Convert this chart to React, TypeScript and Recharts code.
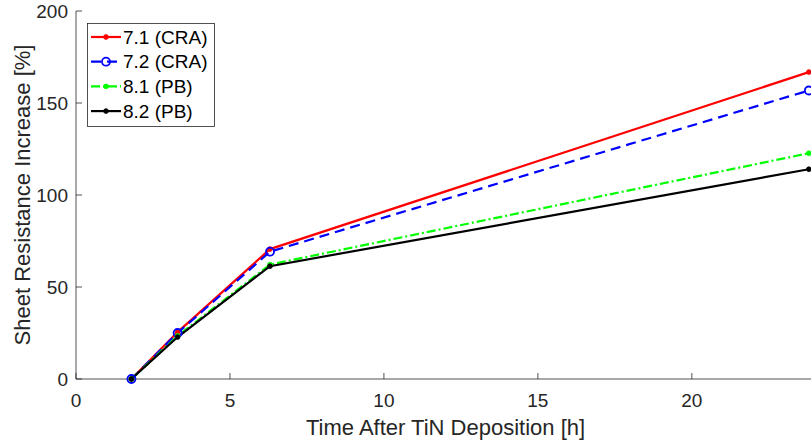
import React from "react";
import { LineChart, Line, XAxis, YAxis } from "recharts";

const hours = [1.8, 3.3, 6.3, 23.8];
const cra71 = [0, 25.5, 70.6, 166.8];
const cra72 = [0, 25, 69.2, 156.8];
const pb81 = [0, 23.4, 62.2, 122.7];
const pb82 = [0, 22.8, 61.3, 114];

const xTicks = [0, 5, 10, 15, 20];
const yTicks = [0, 50, 100, 150, 200];

const AXIS = "#262626";
const FONT = "'Liberation Sans', Arial, Helvetica, sans-serif";

const series = [
  { key: "s71", name: "7.1 (CRA)", color: "#ff0000", dash: undefined, marker: "dot" },
  { key: "s72", name: "7.2 (CRA)", color: "#0000ff", dash: "10 6", marker: "circle" },
  { key: "s81", name: "8.1 (PB)", color: "#00ff00", dash: "9 3 2 3", marker: "dot" },
  { key: "s82", name: "8.2 (PB)", color: "#000000", dash: undefined, marker: "dot" },
];

const data = hours.map((h, i) => ({
  h,
  s71: cra71[i],
  s72: cra72[i],
  s81: pb81[i],
  s82: pb82[i],
}));

function Marker({ cx, cy, kind, color }: { cx: number; cy: number; kind: string; color: string }) {
  if (kind === "circle") {
    return <circle cx={cx} cy={cy} r={4} fill="none" stroke={color} strokeWidth={1.8} />;
  }
  return <circle cx={cx} cy={cy} r={2.4} fill={color} stroke={color} strokeWidth={0.8} />;
}

// ticks drawn inward, MATLAB style
function BottomTick(props: any) {
  const { x, y, payload } = props;
  return (
    <g>
      <line x1={x} x2={x} y1={y} y2={y - 6} stroke={AXIS} strokeWidth={0.8} />
      <text x={x} y={y + 28} textAnchor="middle" fontSize={19} fill={AXIS} fontFamily={FONT}>
        {payload.value}
      </text>
    </g>
  );
}

function TopTick(props: any) {
  const { x, y } = props;
  return <line x1={x} x2={x} y1={y} y2={y + 6} stroke={AXIS} strokeWidth={0.8} />;
}

function LeftTick(props: any) {
  const { x, y, payload } = props;
  return (
    <g>
      <line x1={x} x2={x + 6} y1={y} y2={y} stroke={AXIS} strokeWidth={0.8} />
      <text x={x - 8} y={y} dy="0.35em" textAnchor="end" fontSize={19} fill={AXIS} fontFamily={FONT}>
        {payload.value}
      </text>
    </g>
  );
}

function RightTick(props: any) {
  const { x, y } = props;
  return <line x1={x} x2={x - 6} y1={y} y2={y} stroke={AXIS} strokeWidth={0.8} />;
}

function LegendBox() {
  return (
    <svg width={128} height={104} style={{ display: "block" }}>
      <rect x={0.5} y={0.5} width={127} height={103} fill="#fff" stroke={AXIS} strokeWidth={0.8} />
      {series.map((s, i) => {
        const cy = 14 + i * 24.7;
        return (
          <g key={s.key}>
            <line x1={4} x2={34} y1={cy} y2={cy} stroke={s.color} strokeWidth={2.2} strokeDasharray={s.dash} />
            <Marker cx={19} cy={cy} kind={s.marker} color={s.color} />
            <text x={36} y={cy} dy="0.35em" fontSize={19} fill="#000" fontFamily={FONT}>
              {s.name}
            </text>
          </g>
        );
      })}
    </svg>
  );
}

export default function App() {
  return (
    <div
      style={{
        position: "absolute",
        left: 0,
        top: 0,
        width: 811,
        height: 444,
        overflow: "hidden",
        background: "#fff",
        fontFamily: FONT,
      }}
    >
      <LineChart width={830} height={444} data={data} margin={{ top: 11, right: 15, left: 0, bottom: 0 }}>
        <XAxis
          dataKey="h"
          type="number"
          domain={[0, 24]}
          ticks={xTicks}
          height={65}
          tickSize={0}
          tickMargin={0}
          tickLine={false}
          tick={<BottomTick />}
          axisLine={{ stroke: AXIS, strokeWidth: 0.8 }}
          label={{
            value: "Time After TiN Deposition [h]",
            position: "center",
            dy: 16,
            fontSize: 22,
            fill: AXIS,
            fontFamily: FONT,
          }}
        />
        <XAxis
          xAxisId="top"
          orientation="top"
          dataKey="h"
          type="number"
          domain={[0, 24]}
          allowDataOverflow
          ticks={xTicks}
          height={0}
          tickSize={0}
          tickMargin={0}
          tickLine={false}
          tick={<TopTick />}
          axisLine={{ stroke: AXIS, strokeWidth: 0.8 }}
        />
        <YAxis
          type="number"
          domain={[0, 200]}
          ticks={yTicks}
          width={76}
          tickSize={0}
          tickMargin={0}
          tickLine={false}
          tick={<LeftTick />}
          axisLine={{ stroke: AXIS, strokeWidth: 0.8 }}
          label={{
            value: "Sheet Resistance Increase [%]",
            angle: -90,
            position: "center",
            dx: -16,
            fontSize: 22,
            fill: AXIS,
            fontFamily: FONT,
          }}
        />
        <YAxis
          yAxisId="right"
          orientation="right"
          type="number"
          domain={[0, 200]}
          allowDataOverflow
          ticks={yTicks}
          width={0}
          tickSize={0}
          tickMargin={0}
          tickLine={false}
          tick={<RightTick />}
          axisLine={{ stroke: AXIS, strokeWidth: 0.8 }}
        />
        {series.map((s) => (
          <Line
            key={s.key}
            dataKey={s.key}
            name={s.name}
            type="linear"
            stroke={s.color}
            strokeWidth={2.2}
            strokeDasharray={s.dash}
            dot={(p: any) => <Marker key={`${s.key}-${p.index}`} cx={p.cx} cy={p.cy} kind={s.marker} color={s.color} />}
            activeDot={false}
            isAnimationActive={false}
          />
        ))}
      </LineChart>
      <div style={{ position: "absolute", left: 87, top: 23 }}>
        <LegendBox />
      </div>
    </div>
  );
}
